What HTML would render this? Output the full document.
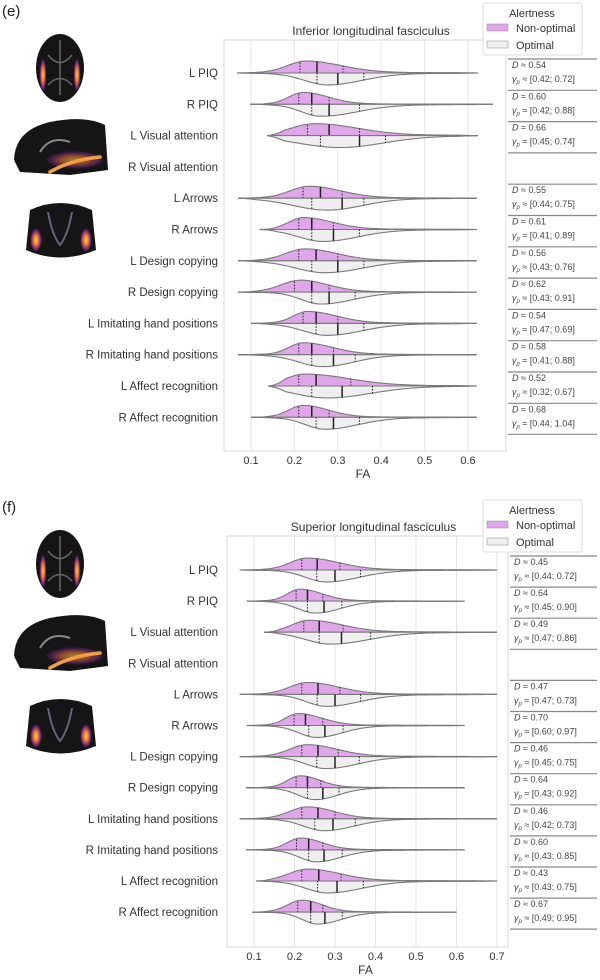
<!DOCTYPE html>
<html><head><meta charset="utf-8"><style>
html,body{margin:0;padding:0;background:#fff;}
svg{display:block;font-family:"Liberation Sans",sans-serif;}
</style></head><body>
<svg id="fig" width="600" height="980" viewBox="0 0 600 980" xmlns="http://www.w3.org/2000/svg">
<defs>
<radialGradient id="glow" cx="50%" cy="50%" r="50%"><stop offset="0" stop-color="#ffcf5a"/><stop offset="0.45" stop-color="#e8702a"/><stop offset="0.8" stop-color="#7a2a90" stop-opacity="0.8"/><stop offset="1" stop-color="#5a1a7a" stop-opacity="0"/></radialGradient>
</defs>
<g id="root"></g>
</svg>
<script>
const rowLabels = ['L PIQ','R PIQ','L Visual attention','R Visual attention','L Arrows','R Arrows','L Design copying','R Design copying','L Imitating hand positions','R Imitating hand positions','L Affect recognition','R Affect recognition'];
// Panel e (Inferior longitudinal fasciculus)
const eNonQ1 = [0.213,0.21,0.23,null,0.22,0.21,0.21,0.20,0.22,0.21,0.21,0.21];
const eNonMed = [0.252,0.24,0.28,null,0.26,0.24,0.25,0.24,0.25,0.24,0.25,0.24];
const eNonQ3 = [0.312,0.28,0.35,null,0.31,0.29,0.30,0.28,0.30,0.29,0.33,0.28];
const eOptQ1 = [0.252,0.24,0.26,null,0.24,0.24,0.24,0.24,0.25,0.24,0.24,0.25];
const eOptMed = [0.30,0.28,0.35,null,0.31,0.29,0.30,0.28,0.30,0.29,0.31,0.29];
const eOptQ3 = [0.36,0.35,0.41,null,0.36,0.35,0.36,0.34,0.36,0.34,0.38,0.35];
const eMin = [0.068,0.098,0.137,null,0.07,0.12,0.07,0.07,0.10,0.07,0.14,0.10];
const eMax = [0.623,0.657,0.623,null,0.62,0.62,0.62,0.62,0.62,0.62,0.62,0.62];
const eD = ['0.54','0.60','0.66',null,'0.55','0.61','0.56','0.62','0.54','0.58','0.52','0.68'];
const eCI = ['[0.42; 0.72]','[0.42; 0.88]','[0.45; 0.74]',null,'[0.44; 0.75]','[0.41; 0.89]','[0.43; 0.76]','[0.43; 0.91]','[0.47; 0.69]','[0.41; 0.88]','[0.32; 0.67]','[0.44; 1.04]'];
const eTicks = ['0.1','0.2','0.3','0.4','0.5','0.6'];
// Panel f (Superior longitudinal fasciculus)
const fNonQ1 = [0.218,0.204,0.223,null,0.218,0.199,0.218,0.204,0.218,0.205,0.218,0.208];
const fNonMed = [0.256,0.232,0.261,null,0.258,0.227,0.258,0.232,0.258,0.235,0.26,0.24];
const fNonQ3 = [0.312,0.27,0.32,null,0.312,0.27,0.308,0.265,0.30,0.27,0.315,0.27];
const fOptQ1 = [0.255,0.232,0.261,null,0.256,0.235,0.255,0.232,0.25,0.235,0.257,0.24];
const fOptMed = [0.30,0.273,0.316,null,0.30,0.275,0.30,0.27,0.295,0.273,0.305,0.275];
const fOptQ3 = [0.363,0.317,0.388,null,0.363,0.32,0.36,0.31,0.35,0.318,0.37,0.318];
const fMin = [0.065,0.082,0.125,null,0.065,0.082,0.065,0.08,0.065,0.08,0.105,0.095];
const fMax = [0.70,0.62,0.70,null,0.70,0.62,0.70,0.62,0.70,0.62,0.70,0.60];
const fD = ['0.45','0.64','0.49',null,'0.47','0.70','0.46','0.64','0.46','0.60','0.43','0.67'];
const fCI = ['[0.44; 0.72]','[0.45; 0.90]','[0.47; 0.86]',null,'[0.47; 0.73]','[0.60; 0.97]','[0.45; 0.75]','[0.43; 0.92]','[0.42; 0.73]','[0.43; 0.85]','[0.43; 0.75]','[0.49; 0.95]'];
const fTicks = ['0.1','0.2','0.3','0.4','0.5','0.6','0.7'];

const NS='http://www.w3.org/2000/svg';
const root=document.getElementById('root');
function mk(tag,attrs,parent,txt){const e=document.createElementNS(NS,tag);for(const k in attrs)e.setAttribute(k,attrs[k]);if(txt!==undefined)e.textContent=txt;(parent||root).appendChild(e);return e;}

function brains(oy,g){
  let a=mk('g',{},g);
  
  
  mk('ellipse',{cx:60,cy:oy+68,rx:24,ry:34,fill:'#151515'},a);
  mk('path',{d:`M48 ${oy+55} Q60 ${oy+70} 72 ${oy+55} M48 ${oy+85} Q60 ${oy+72} 72 ${oy+85} M60 ${oy+40} L60 ${oy+95}`,stroke:'#666',fill:'none','stroke-width':1.5},a);
  mk('ellipse',{cx:43,cy:oy+75,rx:3.5,ry:17,fill:'url(#glow)'},a);
  mk('ellipse',{cx:77,cy:oy+75,rx:3.5,ry:17,fill:'url(#glow)'},a);
  let s=mk('g',{},g);
  
  
  mk('path',{d:`M14 ${oy+160} Q15 ${oy+130} 50 ${oy+122} Q85 ${oy+115} 105 ${oy+125} L108 ${oy+170} L70 ${oy+175} L20 ${oy+172}Z`,fill:'#151515'},s);
  mk('path',{d:`M40 ${oy+152} Q50 ${oy+135} 70 ${oy+142}`,stroke:'#888',fill:'none','stroke-width':2},s);
  mk('ellipse',{cx:75,cy:oy+160,rx:30,ry:9,fill:'url(#glow)',opacity:0.6},s);
  mk('path',{d:`M50 ${oy+172} Q70 ${oy+160} 100 ${oy+157}`,stroke:'#f0a040',fill:'none','stroke-width':3.5,'stroke-linecap':'round'},s);
  let c=mk('g',{},g);
  
  
  mk('path',{d:`M30 ${oy+210} Q60 ${oy+196} 92 ${oy+210} L96 ${oy+250} Q60 ${oy+265} 26 ${oy+250}Z`,fill:'#151515'},c);
  mk('path',{d:`M48 ${oy+212} Q52 ${oy+235} 60 ${oy+245} Q68 ${oy+235} 72 ${oy+212}`,stroke:'#6a6080',fill:'none','stroke-width':2},c);
  mk('ellipse',{cx:36,cy:oy+240,rx:6,ry:12,fill:'url(#glow)'},c);
  mk('ellipse',{cx:86,cy:oy+240,rx:6,ry:12,fill:'url(#glow)'},c);
}

function panel(p){
  const g=mk('g',{});
  
  
  const xs=v=>p.x0+v*p.k;
  const lab=mk('text',{x:2,y:p.top-24,'font-size':15,fill:'#222'},g,p.letter);
  
  
  brains(p.top-40,g);
  const frame=mk('rect',{x:p.left,y:p.top,width:p.right-p.left,height:p.bottom-p.top,fill:'#fff',stroke:'#d8d8d8','stroke-width':1},g);
  
  
  p.ticks.forEach(t=>{
    const x=xs(parseFloat(t));
    const gl=mk('line',{x1:x,x2:x,y1:p.top,y2:p.bottom,stroke:'#e6e6e6','stroke-width':1},g);
    
    
    const tl=mk('text',{x:x,y:p.bottom+13,'font-size':11,'text-anchor':'middle',fill:'#333'},g,t);
    
    
  });
  const xt=mk('text',{x:(p.left+p.right)/2-2,y:p.bottom+27,'font-size':12,'text-anchor':'middle',fill:'#333'},g,'FA');
  
  
  const tt=mk('text',{x:(p.left+p.right)/2+6,y:p.top-5,'font-size':12,'text-anchor':'middle',fill:'#333'},g,p.title);
  
  
  rowLabels.forEach((r,i)=>{
    const cy=p.y0+i*p.dy;
    const rl=mk('text',{x:218,y:cy+4,'font-size':11.5,'text-anchor':'end',fill:'#333'},g,r);
    
    
    const sep=mk('line',{x1:p.right+2,x2:597,y1:cy-14,y2:cy-14,stroke:'#888','stroke-width':1.2},g);
    
    
    if(i===rowLabels.length-1){const s2=mk('line',{x1:p.right+2,x2:597,y1:cy+17,y2:cy+17,stroke:'#888','stroke-width':1.2},g);}
    if(p.nonMed[i]===null) return;
    const mn=p.min[i],mx=p.max[i];
    const ln=mk('line',{x1:xs(mn),x2:xs(mx),y1:cy,y2:cy,stroke:'#808080','stroke-width':1.3},g);
    
    
    const halves=[[p.nonQ1[i],p.nonMed[i],p.nonQ3[i],-1,'#dfa6ea','non-optimal-violin',0.35],[p.optQ1[i],p.optMed[i],p.optQ3[i],1,'#efefef','optimal-violin',0.5]];
    halves.forEach(h=>{
      const [q1,m,q3,dir,col,nm,sk]=h;
      const c=q1+sk*(m-q1);
      const sL=(m-q1)*1.1, sR=(q3-c)*0.95;
      const H=11.5;
      const dens=v=>{const s=v<c?sL:sR;let d=Math.exp(-0.5*((v-c)/s)**2);d+=0.04*Math.exp(-0.5*((v-q3)/(3*sR))**2);
        const tl=Math.min(1,Math.max(0,(v-mn)/0.04)), tr=Math.min(1,Math.max(0,(mx-v)/0.04));return d*tl*tr;};
      let d=`M${xs(mn)} ${cy}`;
      for(let j=0;j<=160;j++){const v=mn+(mx-mn)*j/160;d+=` L${xs(v).toFixed(1)} ${(cy+dir*H*dens(v)).toFixed(1)}`;}
      d+=` L${xs(mx)} ${cy}Z`;
      const path=mk('path',{d:d,fill:col,stroke:'#7a7a7a','stroke-width':1.1},g);
      
      
      [[q1,true],[m,false],[q3,true]].forEach(q=>{
        const qv=q[0];const x=xs(qv);
        const ql=mk('line',{x1:x,x2:x,y1:cy,y2:cy+dir*H*dens(qv),stroke:'#222','stroke-width':q[1]?1:1.5,'stroke-dasharray':q[1]?'1.5,1.5':'none'},g);
        
        
      });
    });
    const st=mk('text',{x:p.right+6,y:cy-5,'font-size':9,fill:'#444'},g);
    
    
    mk('tspan',{'font-style':'italic'},st,'D');
    mk('tspan',{},st,' \u2248 '+p.D[i]);
    const ci=mk('text',{x:p.right+6,y:cy+9,'font-size':9,fill:'#444'},g);
    
    
    mk('tspan',{'font-style':'italic'},ci,'\u03b3');
    mk('tspan',{'font-size':6,'font-style':'italic',dy:2},ci,'p');
    mk('tspan',{dy:-2},ci,' \u2248 '+p.CI[i]);
  });
  const lg=mk('g',{},g);
  
  
  mk('rect',{x:483,y:p.legY,width:99,height:52,fill:'#fff',stroke:'#ddd',rx:2},lg);
  mk('text',{x:532,y:p.legY+14,'font-size':11,'text-anchor':'middle',fill:'#333'},lg,'Alertness');
  const e1=mk('g',{},lg);
  
  
  mk('rect',{x:487,y:p.legY+21,width:21,height:7,fill:'#dfa6ea',stroke:'#999','stroke-width':0.6},e1);
  mk('text',{x:516,y:p.legY+29,'font-size':11,fill:'#333'},e1,'Non-optimal');
  const e2=mk('g',{},lg);
  
  
  mk('rect',{x:487,y:p.legY+38,width:21,height:7,fill:'#efefef',stroke:'#999','stroke-width':0.6},e2);
  mk('text',{x:516,y:p.legY+46,'font-size':11,fill:'#333'},e2,'Optimal');
}

panel({name:'panel-e',letter:'(e)',title:'Inferior longitudinal fasciculus',left:224,right:506,top:40,bottom:451,x0:207.6,k:434,y0:73,dy:31.3,ticks:eTicks,legY:3,
  nonQ1:eNonQ1,nonMed:eNonMed,nonQ3:eNonQ3,optQ1:eOptQ1,optMed:eOptMed,optQ3:eOptQ3,min:eMin,max:eMax,D:eD,CI:eCI});
panel({name:'panel-f',letter:'(f)',title:'Superior longitudinal fasciculus',left:227,right:508,top:536,bottom:947,x0:213.5,k:405,y0:570,dy:31.1,ticks:fTicks,legY:500,
  nonQ1:fNonQ1,nonMed:fNonMed,nonQ3:fNonQ3,optQ1:fOptQ1,optMed:fOptMed,optQ3:fOptQ3,min:fMin,max:fMax,D:fD,CI:fCI});
</script>
</body></html>
